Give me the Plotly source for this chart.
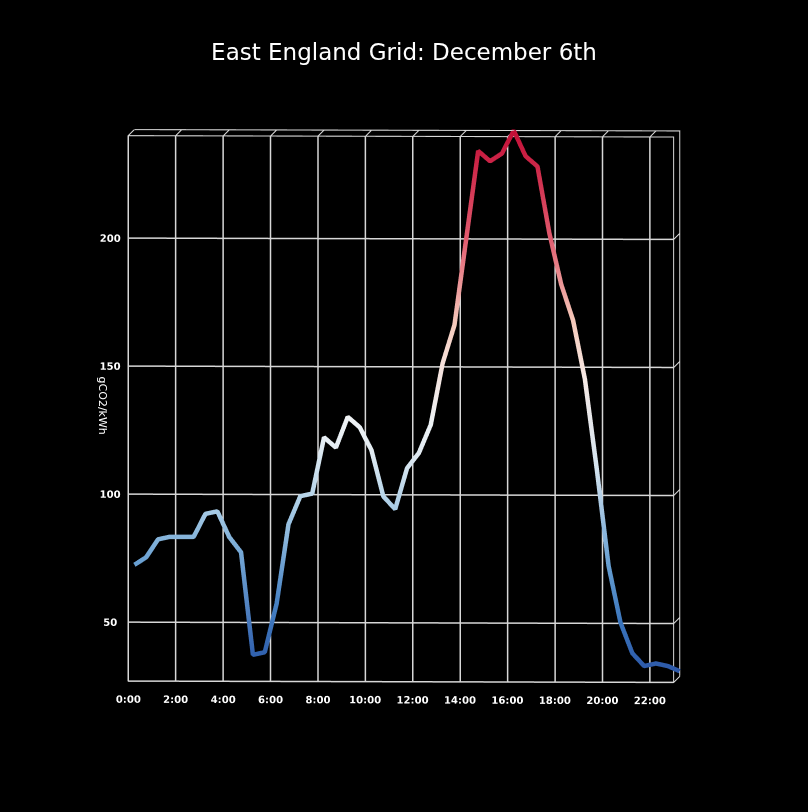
import plotly.graph_objects as go

hours = [0.0, 0.5, 1.0, 1.5, 2.0, 2.5, 3.0, 3.5, 4.0, 4.5, 5.0, 5.5, 6.0, 6.5, 7.0, 7.5,
         8.0, 8.5, 9.0, 9.5, 10.0, 10.5, 11.0, 11.5, 12.0, 12.5, 13.0, 13.5, 14.0, 14.5,
         15.0, 15.5, 16.0, 16.5, 17.0, 17.5, 18.0, 18.5, 19.0, 19.5, 20.0, 20.5, 21.0,
         21.5, 22.0, 22.5, 23.0]
intensity = [70, 73, 80, 81, 81, 81, 90, 91, 81, 75, 35, 36, 55, 86, 97, 98,
             120, 116, 128, 124, 115, 97, 92, 108, 114, 125, 149, 164, 198, 232,
             228, 231, 240, 230, 226, 200, 180, 166, 143, 108, 70, 48, 36,
             31, 32, 31, 29]
tick_hours = [0, 2, 4, 6, 8, 10, 12, 14, 16, 18, 20, 22]
tick_labels = ["0:00", "2:00", "4:00", "6:00", "8:00", "10:00", "12:00", "14:00",
               "16:00", "18:00", "20:00", "22:00"]
z_ticks = [50, 100, 150, 200]

colorscale = [
    [0.0, "rgb(45,88,168)"],
    [0.1, "rgb(60,120,190)"],
    [0.2, "rgb(105,160,210)"],
    [0.3, "rgb(170,205,230)"],
    [0.4, "rgb(225,235,242)"],
    [0.5, "rgb(247,247,247)"],
    [0.65, "rgb(245,200,185)"],
    [0.8, "rgb(225,90,110)"],
    [1.0, "rgb(195,15,55)"],
]

fig = go.Figure(
    go.Scatter3d(
        x=hours,
        y=[0.0] * len(hours),
        z=intensity,
        mode="lines",
        line=dict(width=9, color=intensity, colorscale=colorscale,
                  cmin=min(intensity), cmax=max(intensity)),
        hoverinfo="skip",
    )
)

grid = "rgb(215,215,215)"
axis_common = dict(
    showbackground=False,
    gridcolor=grid,
    gridwidth=3,
    zeroline=False,
    showspikes=False,
    tickfont=dict(color="white", size=11, family="DejaVu Sans", weight="bold"),
    linecolor=grid,
    linewidth=3,
    showline=True,
)

fig.update_layout(
    width=808,
    height=812,
    paper_bgcolor="black",
    plot_bgcolor="black",
    margin=dict(l=0, r=0, t=0, b=0),
    title=dict(text="East England Grid: December 6th", x=0.5, y=0.936,
               xanchor="center", yanchor="middle",
               font=dict(color="white", size=23, family="DejaVu Sans")),
    showlegend=False,
    annotations=[dict(text="gCO2/kWh", xref="paper", yref="paper", x=0.1175, y=0.5,
                      showarrow=False, textangle=90,
                      font=dict(color="white", size=11, family="DejaVu Sans"))],
    scene=dict(
        bgcolor="black",
        domain=dict(x=[0.0, 1.0], y=[0.0, 1.0]),
        xaxis=dict(axis_common, range=[0, 23], tickvals=tick_hours, ticktext=tick_labels,
                   tickangle=0, title=dict(text="")),
        yaxis=dict(axis_common, range=[0, 1], tickvals=[0, 1], showticklabels=False,
                   title=dict(text="")),
        zaxis=dict(axis_common, range=[27, 240], tickvals=z_ticks,
                   title=dict(text="")),
        aspectmode="manual",
        aspectratio=dict(x=1.345, y=0.3, z=1.345),
        camera=dict(eye=dict(x=-0.1, y=-2.0, z=-0.1), up=dict(x=0, y=0, z=1),
                    center=dict(x=0, y=0, z=0),
                    projection=dict(type="orthographic")),
    ),
)

fig.write_html(
    "out.html",
    config={"displayModeBar": False},
    post_script="document.body.style.margin='0';document.body.style.background='black';"
                "document.documentElement.style.background='black';",
)
